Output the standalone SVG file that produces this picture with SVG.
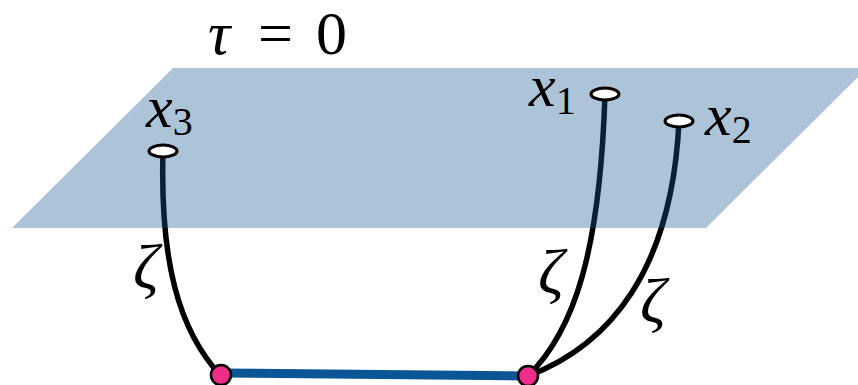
<svg xmlns="http://www.w3.org/2000/svg" width="858" height="385" viewBox="0 0 858 385">
<style>
text{font-family:'Liberation Serif','DejaVu Serif',serif;fill:#000}
.it{font-style:italic}
.sub{font-size:40px}
.z{font-style:italic;font-size:64px}
.wire{fill:none;stroke:#000;stroke-width:5.5;stroke-linecap:round}
.end{fill:#fff;stroke:#000;stroke-width:3}
.vtx{fill:#ee2d8a;stroke:#000;stroke-width:2.5}
</style>
<rect width="858" height="385" fill="#fff"/>
<g id="connectors">
<path class="wire" d="M163,151 C160,260 178,330 221,376"/>
<path class="wire" d="M605,94 C600,250 575,330 528,376"/>
<path class="wire" d="M679,121 C672,270 610,345 528,376"/>
<line x1="221" y1="373" x2="528" y2="376" stroke="#0a5596" stroke-width="9"/>
</g>
<g id="plane">
<polygon points="173,68 867,68 706,228 12,228" fill="#1d5992" fill-opacity="0.36"/>
</g>
<g id="title">
<text x="208" y="54" font-size="62" xml:space="preserve"><tspan class="it">τ</tspan><tspan x="258">=</tspan><tspan x="316">0</tspan></text>
</g>
<g id="x3">
<ellipse class="end" cx="163" cy="151" rx="14" ry="6"/>
<text x="146" y="127" font-size="60"><tspan class="it">x</tspan><tspan class="sub" dy="8">3</tspan></text>
</g>
<g id="x1">
<ellipse class="end" cx="605" cy="94" rx="14" ry="6"/>
<text x="529" y="106" font-size="60"><tspan class="it">x</tspan><tspan class="sub" dy="8">1</tspan></text>
</g>
<g id="x2">
<ellipse class="end" cx="679" cy="121" rx="14" ry="6"/>
<text x="705" y="135" font-size="60"><tspan class="it">x</tspan><tspan class="sub" dy="8">2</tspan></text>
</g>
<g id="v1"><circle class="vtx" cx="221" cy="375" r="10"/></g>
<g id="v2"><circle class="vtx" cx="528" cy="376" r="10"/></g>
<g id="zeta">
<text class="z" x="133" y="288">ζ</text>
<text class="z" x="538" y="293">ζ</text>
<text class="z" x="640" y="322">ζ</text>
</g>
</svg>
